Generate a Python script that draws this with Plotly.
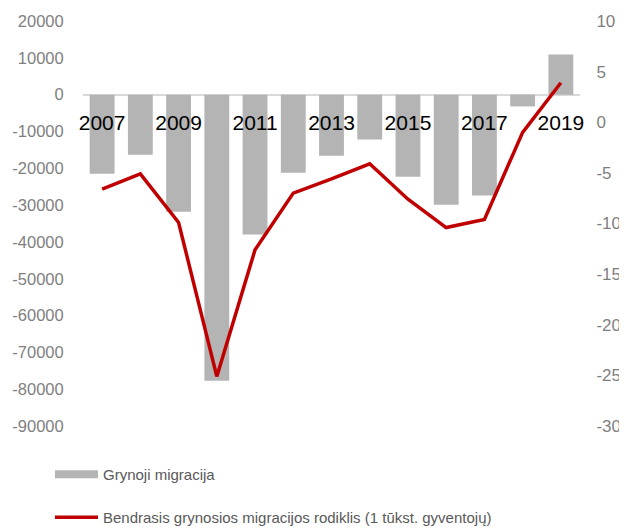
import plotly.graph_objects as go

years = list(range(2007, 2020))
net_migration = [-21500, -16300, -31800, -77700, -38000, -21200, -16600,
                 -12200, -22300, -29900, -27400, -3200, 10900]
rate = [-6.6, -5.1, -9.9, -25.1, -12.6, -7.0, -5.6, -4.1, -7.6, -10.4, -9.6, -1.0, 3.9]
year_ticks = [2007, 2009, 2011, 2013, 2015, 2017, 2019]
left_ticks = [20000, 10000, 0, -10000, -20000, -30000, -40000, -50000,
              -60000, -70000, -80000, -90000]
right_ticks = [10, 5, 0, -5, -10, -15, -20, -25, -30]

bar_name = "Grynoji migracija"
line_name = "Bendrasis grynosios migracijos rodiklis (1 tūkst. gyventojų)"

FONT = "Liberation Sans, Arial, sans-serif"
BAR_C = "#b4b4b4"
LINE_C = "#c00000"

fig = go.Figure()
fig.add_trace(go.Bar(x=years, y=net_migration, marker_color=BAR_C, marker_line_width=0,
                     name=bar_name, showlegend=False, yaxis="y"))
fig.add_trace(go.Scatter(x=[years[0]], y=[None], mode="lines", name=bar_name,
                         line=dict(color=BAR_C, width=8), legend="legend", yaxis="y"))
fig.add_trace(go.Scatter(x=years, y=rate, mode="lines", name=line_name,
                         line=dict(color=LINE_C, width=3.5), yaxis="y2", legend="legend2"))

fig.update_layout(
    width=619, height=520,
    margin=dict(l=75, r=47, t=13, b=102, autoexpand=False),
    paper_bgcolor="white", plot_bgcolor="white",
    font=dict(family=FONT, color="#7f7f7f"),
    bargap=0.35,
    xaxis=dict(range=[2006.5, 2019.5], tickvals=year_ticks, ticktext=[str(y) for y in year_ticks],
               anchor="free", position=0.785, showline=False, showgrid=False, zeroline=False,
               ticks="", tickfont=dict(size=21, color="black", family=FONT)),
    yaxis=dict(range=[-90000, 20000], tickvals=left_ticks, ticktext=[str(v) for v in left_ticks],
               showgrid=False, zeroline=True, zerolinecolor="#d9d9d9", zerolinewidth=2,
               showline=False, ticks="outside", ticklen=15, tickcolor="rgba(0,0,0,0)",
               tickfont=dict(size=16.5, color="#7f7f7f")),
    yaxis2=dict(range=[-30, 10], tickvals=right_ticks, ticktext=[str(v) for v in right_ticks],
                overlaying="y", side="right",
                showgrid=False, zeroline=False, showline=False,
                ticks="outside", ticklen=12, tickcolor="rgba(0,0,0,0)",
                tickfont=dict(size=17, color="#7f7f7f")),
    legend=dict(x=-33/497, y=-32/405,
                xanchor="left", yanchor="top", font=dict(size=15, color="#595959"),
                bgcolor="rgba(0,0,0,0)", itemwidth=43),
    legend2=dict(x=-33/497, y=-75/405,
                 xanchor="left", yanchor="top", font=dict(size=15, color="#595959"),
                 bgcolor="rgba(0,0,0,0)", itemwidth=43),
)

fig.write_html("out.html")
